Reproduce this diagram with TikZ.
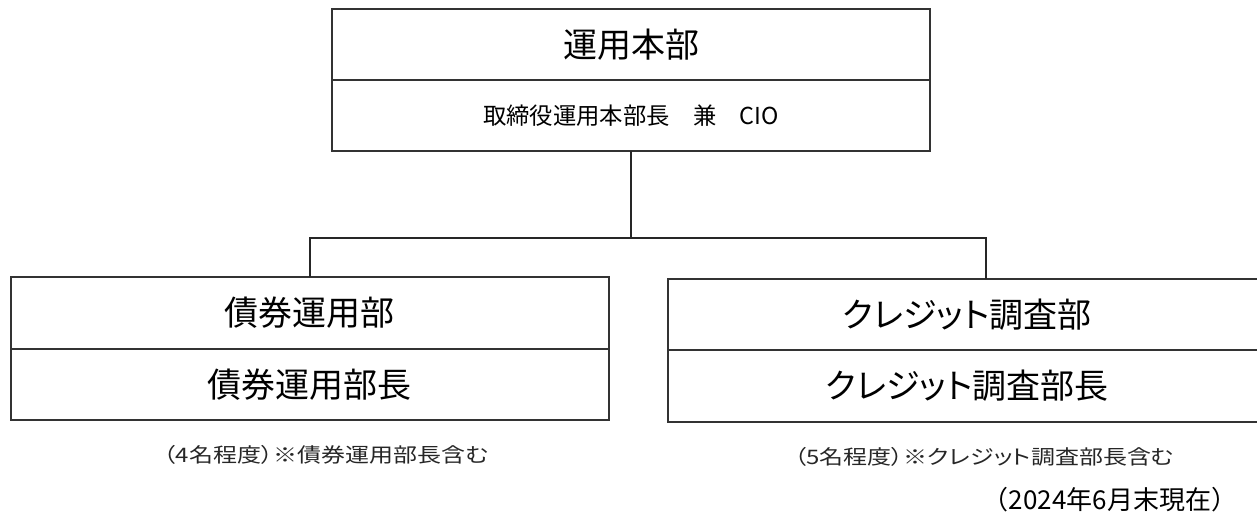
\documentclass[tikz,border=0pt]{standalone}
\usepackage{fontspec}
\setmainfont{Noto Sans CJK JP}
\newfontfamily\propfont[RawFeature=+palt]{Noto Sans CJK JP}
\usetikzlibrary{positioning}

\tikzset{
	unit/.style={draw=black!80, line width=1.5pt, outer sep=0pt, inner sep=0pt,
		minimum width=448.5pt, minimum height=53.5pt},
	big/.style={font=\fontsize{25.5}{30}\selectfont},
	small/.style={font=\fontsize{17.5}{21}\selectfont},
	note/.style={font=\fontsize{15}{18}\selectfont\propfont, text=black!85},
	asof/.style={font=\fontsize{19.5}{23}\selectfont},
	link/.style={draw=black!85, line width=1.5pt},
}

\begin{document}
\begin{tikzpicture}[x=0.75pt, y=-0.75pt]
	\useasboundingbox (0,0) rectangle (1257,524);

	\node[unit, big] (honbu) at (631,44.5) {運用本部};
	\node[unit, small, below=0pt of honbu] (cio) {取締役運用本部長　兼　CIO};

	\node[unit, big] (saiken) at (309.5,313) {債券運用部};
	\node[unit, big, below=0pt of saiken] (saikenchou) {債券運用部長};

	\node[unit, big] (credit) at (967,314.5) {\propfont クレジット調査部};
	\node[unit, big, below=0pt of credit] (creditchou) {\propfont クレジット調査部長};

	\node[note] (saikennote) at (326,455) {\scalebox{1.2}[1]{（4名程度）※債券運用部長含む}};
	\node[note] (creditnote) at (984,457) {\scalebox{1.2}[1]{（5名程度）※クレジット調査部長含む}};
	\node[asof] (date) at (1110,500) {（2024年6月末現在）};

	\coordinate (fork) at (631,238);
	\coordinate (rdrop) at (986,238);
	\draw[link] (cio) -- (fork);
	\draw[link] (saiken) |- (rdrop) -- (rdrop |- credit.north);
\end{tikzpicture}
\end{document}
